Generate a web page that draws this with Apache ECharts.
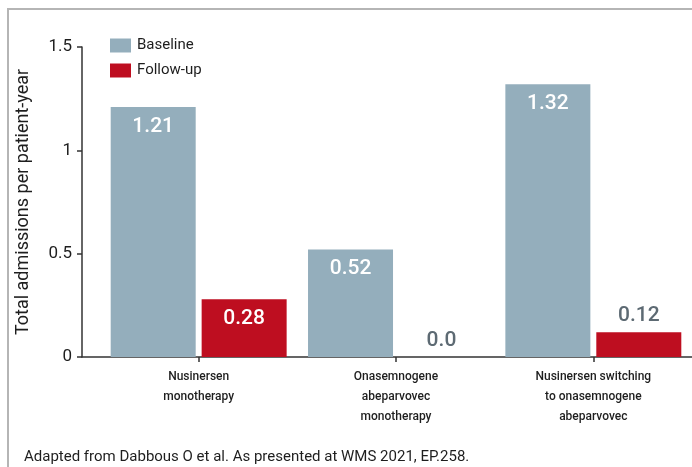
<!DOCTYPE html>
<html>
<head>
<meta charset="utf-8">
<script src="https://cdn.jsdelivr.net/npm/echarts@6/dist/echarts.min.js"></script>
<style>
  html, body { margin: 0; padding: 0; background: #ffffff; }
  #chart { width: 692px; height: 467px; }
</style>
</head>
<body>
<div id="chart"></div>
<script>
// Hospital admissions per patient-year, by treatment group
const categories = [
  'Nusinersen\nmonotherapy',
  'Onasemnogene\nabeparvovec\nmonotherapy',
  'Nusinersen switching\nto onasemnogene\nabeparvovec'
];
const seriesNames = ['Baseline', 'Follow-up'];
const baselineValues = [1.21, 0.52, 1.32];
const followUpValues = [0.28, 0, 0.12];
const yTicks = { min: 0, max: 1.5, interval: 0.5 };

const FONT = 'Roboto, "Noto Sans", sans-serif';
const COLOR_BASE = '#94aebc';
const COLOR_FOLLOW = '#be0e20';
const TEXT_DARK = '#1e1e1e';
const TEXT_GREY = '#5d6a73';

const fmt = v => (v === 0 ? '0.0' : v.toFixed(2));

// Bars that are tall enough carry their value inside; short ones carry it above.
function withLabels(values) {
  return values.map(v => {
    const inside = v >= 0.2;
    return {
      value: v,
      label: inside
        ? { position: 'insideTop', distance: 9, color: '#ffffff' }
        : { position: 'top', distance: 6, color: TEXT_GREY }
    };
  });
}

const barLabel = {
  show: true,
  fontFamily: FONT,
  fontSize: 21,
  fontWeight: 500,
  formatter: p => fmt(p.value)
};

const chart = echarts.init(document.getElementById('chart'), null, { renderer: 'canvas' });

chart.setOption({
  backgroundColor: '#ffffff',
  animation: false,
  textStyle: { fontFamily: FONT },
  title: {
    text: 'Adapted from Dabbous O et al. As presented at WMS 2021, EP.258.',
    left: 19,
    top: 445,
    textStyle: { fontFamily: FONT, fontSize: 15, fontWeight: 'normal', color: TEXT_DARK }
  },
  legend: {
    data: seriesNames,
    orient: 'vertical',
    left: 105,
    top: 33,
    itemWidth: 21,
    itemHeight: 14,
    itemGap: 10,
    icon: 'rect',
    textStyle: { fontFamily: FONT, fontSize: 15, color: TEXT_DARK, padding: [0, 0, 0, 1] }
  },
  graphic: [{
    type: 'rect',
    silent: true,
    shape: { x: 8, y: 9, width: 720, height: 500 },
    style: { fill: 'none', stroke: '#b5b5b5', lineWidth: 2 }
  }],
  grid: [
    // frame grid: carries the value axis and the full baseline
    { left: 82, right: 0, top: 47, bottom: 110 },
    // bar grid: category bands
    { left: 100, right: 0, top: 47, bottom: 110 }
  ],
  xAxis: [
    {
      type: 'category',
      gridIndex: 0,
      data: [''],
      axisLine: { show: true, lineStyle: { color: '#333333', width: 1.5 } },
      axisTick: { show: false },
      axisLabel: { show: false }
    },
    {
      type: 'category',
      gridIndex: 1,
      data: categories,
      axisLine: { show: false },
      axisTick: { show: true, alignWithLabel: true, length: 5, lineStyle: { color: '#333333', width: 1.5 } },
      axisLabel: {
        margin: 10,
        fontFamily: FONT,
        fontSize: 12,
        fontWeight: 500,
        lineHeight: 20,
        color: TEXT_DARK,
        interval: 0
      }
    }
  ],
  yAxis: [
    {
      type: 'value',
      gridIndex: 0,
      min: yTicks.min,
      max: yTicks.max,
      interval: yTicks.interval,
      name: 'Total admissions per patient-year',
      nameLocation: 'middle',
      nameGap: 50,
      nameTextStyle: { fontFamily: FONT, fontSize: 18, color: TEXT_DARK },
      axisLine: { show: true, lineStyle: { color: '#333333', width: 1.5 } },
      axisTick: { show: true, length: 5, lineStyle: { color: '#333333', width: 1.5 } },
      axisLabel: { margin: 10, fontFamily: FONT, fontSize: 17, color: TEXT_DARK },
      splitLine: { show: false }
    },
    {
      type: 'value',
      gridIndex: 1,
      min: yTicks.min,
      max: yTicks.max,
      interval: yTicks.interval,
      show: false,
      splitLine: { show: false }
    }
  ],
  series: [
    {
      name: seriesNames[0],
      type: 'bar',
      xAxisIndex: 1,
      yAxisIndex: 1,
      barWidth: 85,
      barGap: '7%',
      itemStyle: { color: COLOR_BASE },
      label: barLabel,
      data: withLabels(baselineValues)
    },
    {
      name: seriesNames[1],
      type: 'bar',
      xAxisIndex: 1,
      yAxisIndex: 1,
      barWidth: 85,
      barGap: '7%',
      itemStyle: { color: COLOR_FOLLOW },
      label: barLabel,
      data: withLabels(followUpValues)
    }
  ]
});
</script>
</body>
</html>
